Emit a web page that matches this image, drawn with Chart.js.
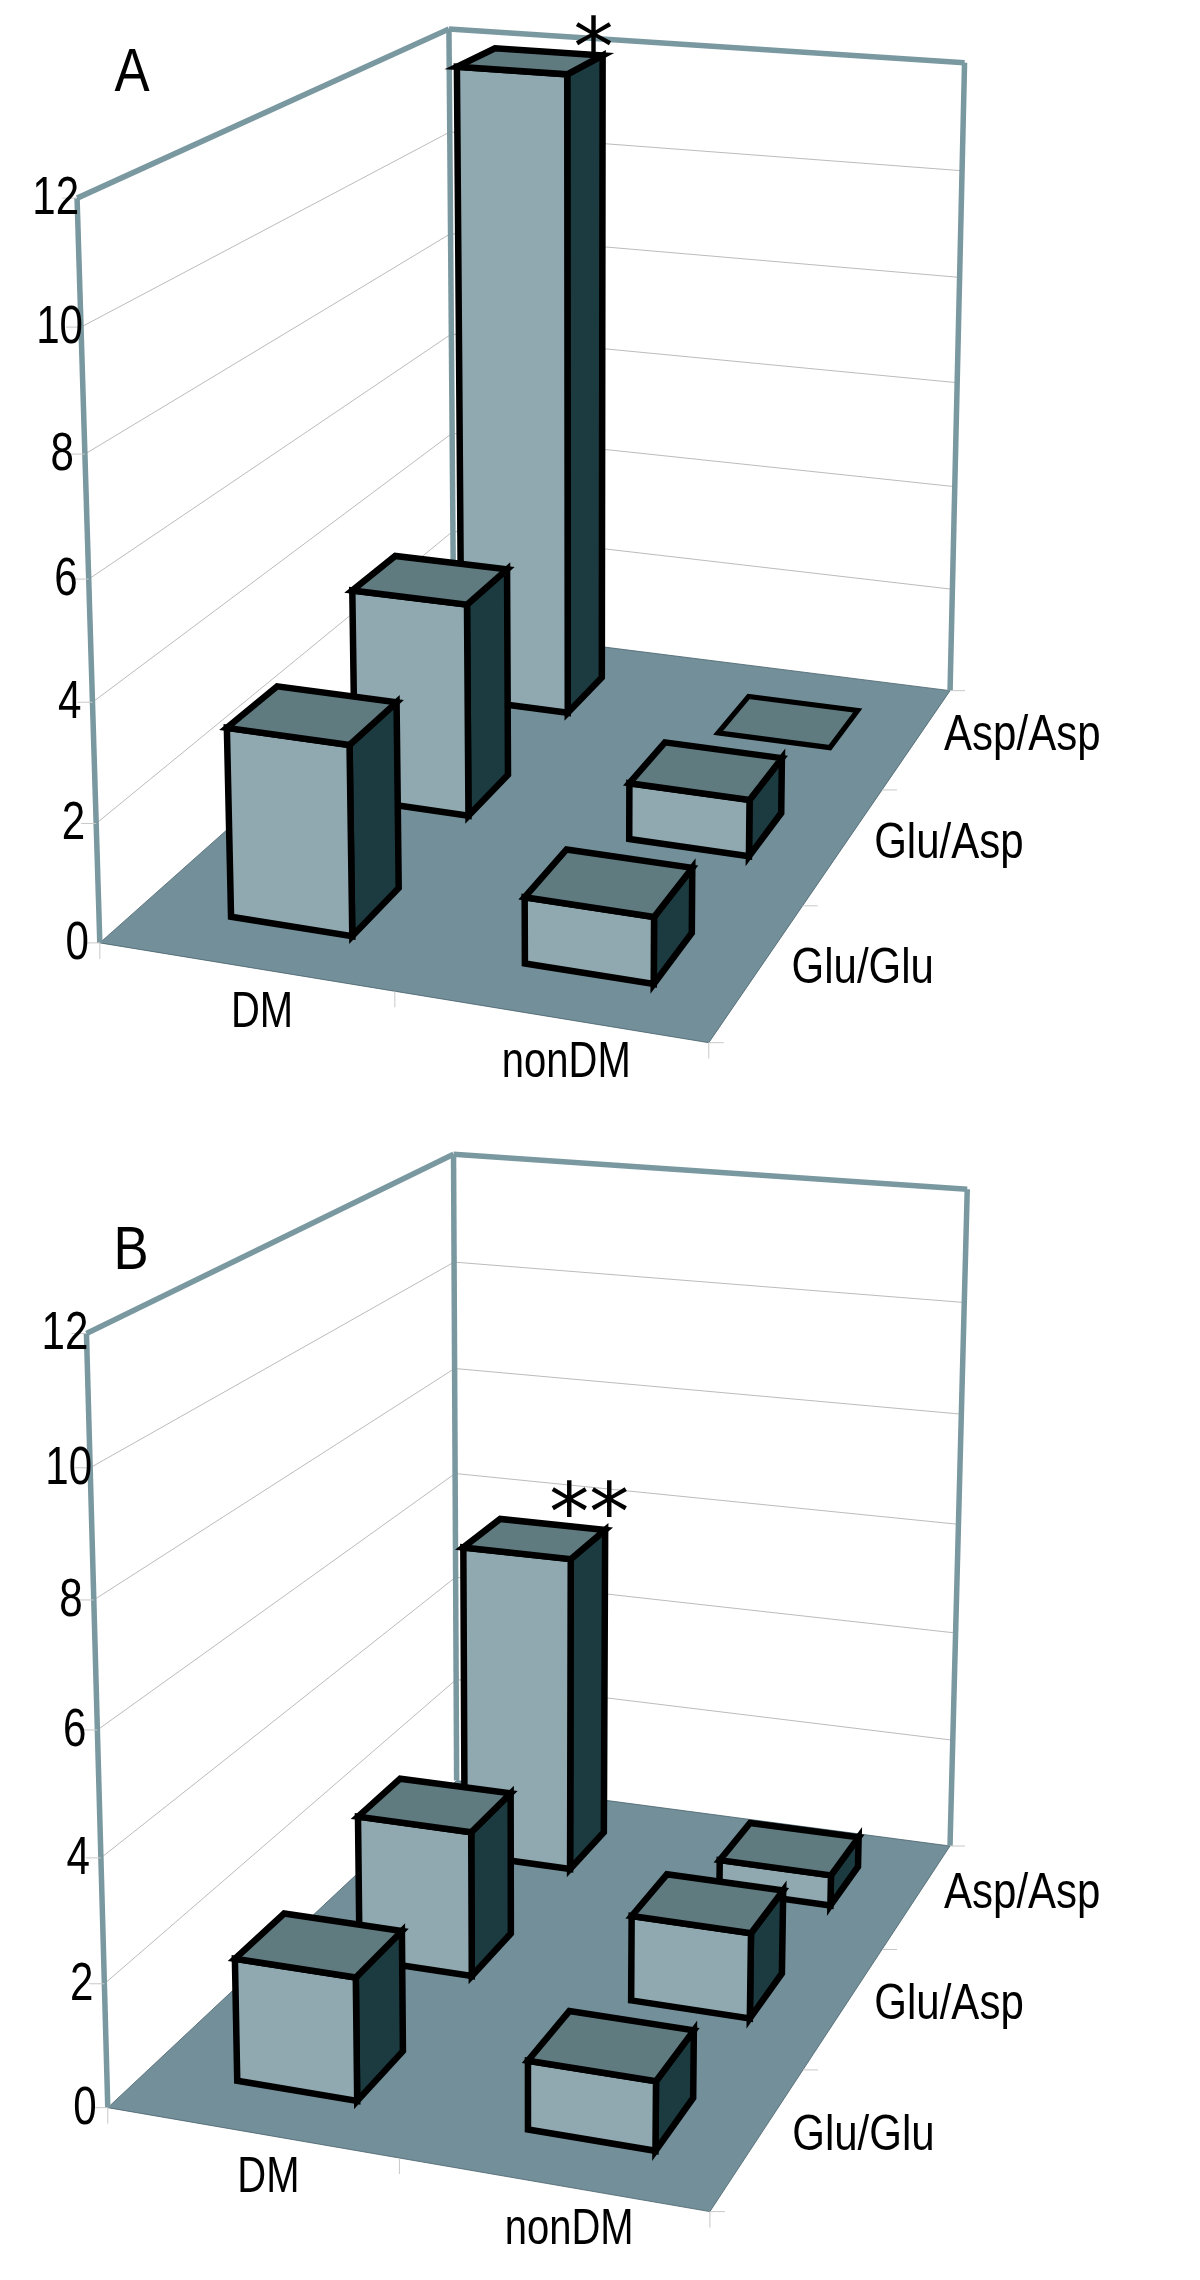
<!DOCTYPE html>
<html><head><meta charset="utf-8">
<script src="https://cdn.jsdelivr.net/npm/chart.js@4"></script>
<style>html,body{margin:0;padding:0;background:#fff}canvas{display:block;position:absolute;left:0}</style>
</head><body>
<canvas id="a" width="1200" height="1140" style="top:0"></canvas>
<canvas id="b" width="1200" height="1140" style="top:1140px"></canvas>
<script>
// ---- data ----
const categories = ['DM', 'nonDM'];
const rows = ['Glu/Glu', 'Glu/Asp', 'Asp/Asp'];
const yTicks = [0, 2, 4, 6, 8, 10, 12];
const panelA_GluGlu = [3.2, 1.1];
const panelA_GluAsp = [3.8, 1.0];
const panelA_AspAsp = [12, 0];
const panelB_GluGlu = [2.0, 1.1];
const panelB_GluAsp = [2.5, 1.45];
const panelB_AspAsp = [5.7, 0.55];

// ---- style ----
const C = {front:'#90a9b0', side:'#1c3b40', top:'#5f7b80', floor:'#73909a', frame:'#7a98a0', grid:'#a9a9a9', tick:'#c8c8c8', floorEdge:'#46606a'};
const FONT = '"Liberation Sans", Arial, sans-serif';

// Solves the perspective camera of a panel from where its frame corners sit on the page.
function solveCamera(pts){
  const A=[], b=[];
  pts.forEach(([u,v,w,x,y])=>{
    x/=1000; y/=1000;
    A.push([u,v,w,1,0,0,0,0,-x*u,-x*v,-x*w]); b.push(x);
    A.push([0,0,0,0,u,v,w,1,-y*u,-y*v,-y*w]); b.push(y);
  });
  const n=11, M=[];
  for(let i=0;i<n;i++){
    const r=new Array(n+1).fill(0);
    for(let j=0;j<n;j++) for(let k=0;k<A.length;k++) r[j]+=A[k][i]*A[k][j];
    for(let k=0;k<A.length;k++) r[n]+=A[k][i]*b[k];
    M.push(r);
  }
  for(let i=0;i<n;i++){
    let p=i; for(let r=i+1;r<n;r++) if(Math.abs(M[r][i])>Math.abs(M[p][i])) p=r;
    [M[i],M[p]]=[M[p],M[i]];
    for(let r=0;r<n;r++) if(r!==i){const f=M[r][i]/M[i][i]; for(let c=i;c<=n;c++) M[r][c]-=f*M[i][c];}
  }
  const p=M.map((r,i)=>r[n]/r[i]);
  return (u,v,w)=>{
    const d=p[8]*u+p[9]*v+p[10]*w+1;
    return [1000*(p[0]*u+p[1]*v+p[2]*w+p[3])/d, 1000*(p[4]*u+p[5]*v+p[6]*w+p[7])/d];
  };
}

// Normalised position along the chart's own scales
const nX=(ch,i)=>{const s=ch.scales.x;return (s.getPixelForValue(i)-s.left)/s.width;};
const nZ=(ch,i)=>{const s=ch.scales.z;return (s.getPixelForValue(i)-s.left)/s.width;};
const nY=(ch,val)=>{const s=ch.scales.y;return (s.bottom-s.getPixelForValue(val))/s.height;};

function poly(ctx,pts,fill,stroke,lw){
  ctx.beginPath();
  pts.forEach((p,i)=>i?ctx.lineTo(p[0],p[1]):ctx.moveTo(p[0],p[1]));
  ctx.closePath();
  if(fill){ctx.fillStyle=fill;ctx.fill();}
  if(stroke){ctx.strokeStyle=stroke;ctx.lineWidth=lw;ctx.lineJoin='miter';ctx.miterLimit=6;ctx.stroke();}
}
function seg(ctx,a,b,color,lw){
  ctx.beginPath();ctx.moveTo(a[0],a[1]);ctx.lineTo(b[0],b[1]);
  ctx.strokeStyle=color;ctx.lineWidth=lw;ctx.lineCap='butt';ctx.stroke();
}
function label(ctx,str,cx,base,size,squeeze,align,family){
  ctx.save();
  ctx.translate(cx,base);ctx.scale(squeeze,1);
  ctx.font=size+'px '+(family||FONT);ctx.fillStyle='#000';
  ctx.textAlign=align||'center';ctx.textBaseline='alphabetic';
  ctx.fillText(str,0,0);
  ctx.restore();
}

// Bar controller that draws each value as a box through the panel's camera
class Bar3D extends Chart.BarController{
  draw(){
    const ch=this.chart, ctx=ch.ctx, o=ch.options.plugins.frame3d, P=ch.$cam;
    const di=this.index, vals=this.getDataset().data;
    const cellU=1/categories.length, cellW=1/rows.length;
    const w0=nZ(ch,di)-cellW*o.depthFrac/2, w1=nZ(ch,di)+cellW*o.depthFrac/2;
    vals.forEach((val,i)=>{
      const c=nX(ch,i)+o.uShift;
      const u0=c-cellU*o.widthFrac/2, u1=c+cellU*o.widthFrac/2, v=nY(ch,val);
      const fl=P(u0,0,w0), fr=P(u1,0,w0), br=P(u1,0,w1);
      const tfl=P(u0,v,w0), tfr=P(u1,v,w0), tbr=P(u1,v,w1), tbl=P(u0,v,w1);
      const lw=val>0?o.barLine:o.barLine*0.8;
      if(val>0){
        poly(ctx,[fr,br,tbr,tfr],C.side,'#000',lw);
        poly(ctx,[fl,fr,tfr,tfl],C.front,'#000',lw);
      }
      poly(ctx,[tfl,tfr,tbr,tbl],C.top,'#000',lw);
    });
  }
}
Bar3D.id='bar3d';
Bar3D.defaults=Chart.BarController.defaults;
Bar3D.overrides=Chart.BarController.overrides;
Chart.register(Bar3D);

const frame3d={
  id:'frame3d',
  beforeDatasetsDraw(ch,args,o){
    const ctx=ch.ctx;
    ch.$cam=ch.$cam||solveCamera(o.calib);
    const P=ch.$cam;
    // walls' gridlines
    ch.scales.y.ticks.forEach(t=>{
      const v=nY(ch,t.value);
      if(t.value>0&&t.value<12){
        seg(ctx,P(0,v,0),P(0,v,1),C.grid,0.8);
        seg(ctx,P(0,v,1),P(1,v,1),C.grid,0.8);
      }
    });
    // floor
    poly(ctx,[P(0,0,0),P(1,0,0),P(1,0,1),P(0,0,1)],C.floor,C.floorEdge,0.8);
    // frame
    const f=(a,b)=>seg(ctx,a,b,C.frame,o.frameLine);
    f(P(0,0,0),P(0,1,0)); f(P(0,1,0),P(0,1,1)); f(P(0,1,1),P(0,0,1));
    f(P(0,1,1),P(1,1,1)); f(P(1,1,1),P(1,0,1));
    // ticks
    ch.scales.y.ticks.forEach(t=>{
      const p=P(0,nY(ch,t.value),0);
      seg(ctx,[p[0]-15,p[1]],p,C.tick,1);
      const two=String(t.value).length>1;
      label(ctx,String(t.value),p[0]+(two?o.ylab2:o.ylab1),p[1]+o.ylabDy,o.ySize,o.ySqueeze,'right');
    });
    [0,0.5,1].forEach(u=>{const p=P(u,0,0);seg(ctx,p,[p[0],p[1]+16],C.tick,1);});
    [0,1/3,2/3,1].forEach(w=>{const p=P(1,0,w);seg(ctx,p,[p[0]+15,p[1]],C.tick,1);});
    // category labels
    categories.forEach((c,i)=>{
      const p=P(nX(ch,i),0,0);
      label(ctx,c,p[0]+o.catDx,p[1]+o.catDy,o.catSize,o.catSqueeze);
    });
    rows.forEach((r,i)=>{
      const p=P(1,0,nZ(ch,i));
      label(ctx,r,p[0]+o.rowDx,p[1]+o.rowDy,o.catSize,o.rowSqueeze);
    });
  },
  afterDatasetsDraw(ch,args,o){
    const ctx=ch.ctx, P=ch.$cam;
    label(ctx,o.letter,o.letterX,o.letterY,62,0.85);
    const cellU=1/categories.length, cellW=1/rows.length;
    const ds=o.starRow, val=ch.data.datasets[ds].data[0];
    const p=P(nX(ch,0)+o.uShift+cellU*o.widthFrac/2,nY(ch,val),nZ(ch,ds)+cellW*o.depthFrac/2);
    label(ctx,o.star,p[0]+o.starDx,p[1]+o.starDy,o.starSize,1,'center','"DejaVu Sans"');
  }
};

function build(id,gg,ga,aa,cfg){
  return new Chart(document.getElementById(id),{
    type:'bar3d',
    data:{labels:categories,datasets:[
      {label:rows[0],data:gg,xAxisID:'x',yAxisID:'y'},
      {label:rows[1],data:ga,xAxisID:'x',yAxisID:'y'},
      {label:rows[2],data:aa,xAxisID:'x',yAxisID:'y'}]},
    options:{
      responsive:false,animation:false,events:[],
      layout:{padding:0},
      scales:{
        x:{type:'category',labels:categories,offset:true,display:false},
        z:{type:'category',axis:'x',labels:rows,offset:true,display:false},
        y:{type:'linear',min:yTicks[0],max:yTicks[yTicks.length-1],display:false,
           afterBuildTicks(s){s.ticks=yTicks.map(value=>({value}));}}
      },
      plugins:{legend:{display:false},tooltip:{enabled:false},title:{display:false},frame3d:cfg}
    },
    plugins:[frame3d]
  });
}

const shared={widthFrac:0.42,depthFrac:0.38,uShift:0.008,barLine:6.5,frameLine:5.5,
  ySize:54,ySqueeze:0.78,catSize:50,catSqueeze:0.8,rowSqueeze:0.84,
  ylab1:-11,ylab2:2,ylabDy:16};

build('a',panelA_GluGlu,panelA_GluAsp,panelA_AspAsp,Object.assign({},shared,{
  calib:[[0,0,0,99,942],[1,0,0,705,1042],[0,0,1,454,628],[1,0,1,949,691],
         [0,1,0,76,200],[0,1,1,449,27],[1,1,1,966,63],[.5,0,0,393,994],
         [1,0,1/3,808,905],[1,0,2/3,884,789],[0,.5,0,91.5,577],[0,.5,1,451,336],[1,.5,1,954,383]],
  catDx:17,catDy:60,rowDx:105,rowDy:12,
  letter:'A',letterX:132,letterY:91,star:'*',starRow:2,starDx:-9,starDy:20,starSize:80}));

build('b',panelB_GluGlu,panelB_GluAsp,panelB_AspAsp,Object.assign({},shared,{
  calib:[[0,0,0,109,968],[1,0,0,708,1072],[0,0,1,454.5,639.5],[1,0,1,951,706],
         [0,1,0,85,193.6],[0,1,1,453.6,13],[1,1,1,967,50],[.5,0,0,398.6,1020.6],
         [1,0,1/3,803.7,928],[1,0,2/3,882.5,809],[0,.5,0,99.5,588],[0,.5,1,456,336]],
  catDx:17,catDy:60,rowDx:105,rowDy:12,
  letter:'B',letterX:131,letterY:129,star:'**',starRow:2,starDx:-16,starDy:10,starSize:80}));
</script>
</body></html>
